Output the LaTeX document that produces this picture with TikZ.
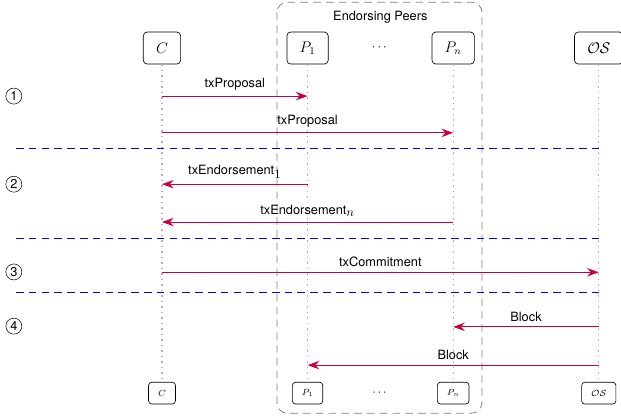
\documentclass[tikz,border=0pt]{standalone}
\usepackage{amsmath}
\usepackage{fontspec}
\setsansfont{TeX Gyre Heros}
\usepackage{xcolor}
\usepackage{tikz}
\usetikzlibrary{arrows.meta}

\definecolor{msgred}{RGB}{200,0,72}

\begin{document}
\begin{tikzpicture}[
        actor/.style={draw=black, line width=0.5pt, rounded corners=3pt, inner xsep=0.35cm, inner ysep=0.2cm, minimum height=0.88cm, font=\large},
        smallactor/.style={draw=black, line width=0.5pt, rounded corners=2.5pt, inner xsep=0.26cm, inner ysep=0.1cm, minimum height=0.6cm, font=\scriptsize},
        lifeline/.style={gray!60, line width=1pt, dash pattern=on 1.1pt off 3.2pt},
        msg/.style={draw=msgred, line width=0.8pt, -{Stealth[length=3.2mm,width=2.3mm]}},
        lbl/.style={midway, above, yshift=0.5pt, font=\sffamily},
        phase/.style={blue, line width=0.8pt, dash pattern=on 6pt off 4pt},
        stage/.style={circle, draw, minimum size=0.44cm, inner sep=0pt, font=\sffamily}
    ]
        \useasboundingbox (-4.45,1.32) rectangle (12.61,-10.11);
        % Peers group
        \draw[gray, line width=0.6pt, dash pattern=on 6pt off 4pt, rounded corners=8pt] (3.16,1.26) rectangle (8.79,-10.03);
        \node[font=\sffamily] (peers) at (6,0.85) {Endorsing Peers};
        % Participants
        \node[actor] (C) at (0,0) {$C$};
        \node[actor] (P1) at (4,0) {$P_1$};
        \node (dots) at (6,0) {$\cdots$};
        \node[actor] (Pn) at (8,0) {$P_n$};
        \node[actor] (OS) at (12,0) {$\mathcal{OS}$};
        \node[smallactor] (Cb) at (0,-9.48) {$C$};
        \node[smallactor] (P1b) at (4,-9.48) {$P_1$};
        \node[font=\small] (dotsb) at (6,-9.48) {$\cdots$};
        \node[smallactor] (Pnb) at (8,-9.48) {$P_n$};
        \node[smallactor] (OSb) at (12,-9.48) {$\mathcal{OS}$};
        % Lifelines
        \foreach \p in {C, P1, Pn, OS}
            \draw[lifeline] (\p.south) -- (\p b.north);
        % Rows
        \coordinate (m1) at (0,-1.32);
        \coordinate (m2) at (0,-2.33);
        \coordinate (m3) at (0,-3.74);
        \coordinate (m4) at (0,-4.78);
        \coordinate (m5) at (0,-6.16);
        \coordinate (m6) at (0,-7.66);
        \coordinate (m7) at (0,-8.71);
        % Phases
        \node[stage] (s1) at (-4.07,-1.32) {1};
        \node[stage] (s2) at (-4.07,-3.74) {2};
        \node[stage] (s3) at (-4.07,-6.15) {3};
        \node[stage] (s4) at (-4.07,-7.64) {4};
        \coordinate (b1) at (-4.01,-2.77);
        \coordinate (b2) at (-4.01,-5.22);
        \coordinate (b3) at (-4.01,-6.72);
        \foreach \b in {b1, b2, b3}
            \draw[phase] (\b) -- (OS |- \b);
        % Messages
        \draw[msg] (C |- m1) -- (P1 |- m1) node[lbl] {txProposal};
        \draw[msg] (C |- m2) -- (Pn |- m2) node[lbl] {txProposal};
        \draw[msg] (P1 |- m3) -- (C |- m3) node[lbl] {txEndorsement$_{\textstyle 1}$};
        \draw[msg] (Pn |- m4) -- (C |- m4) node[lbl] {txEndorsement$_{\textstyle n}$};
        \draw[msg] (C |- m5) -- (OS |- m5) node[lbl] {txCommitment};
        \draw[msg] (OS |- m6) -- (Pn |- m6) node[lbl] {Block};
        \draw[msg] (OS |- m7) -- (P1 |- m7) node[lbl] {Block};
    \end{tikzpicture}
\end{document}
